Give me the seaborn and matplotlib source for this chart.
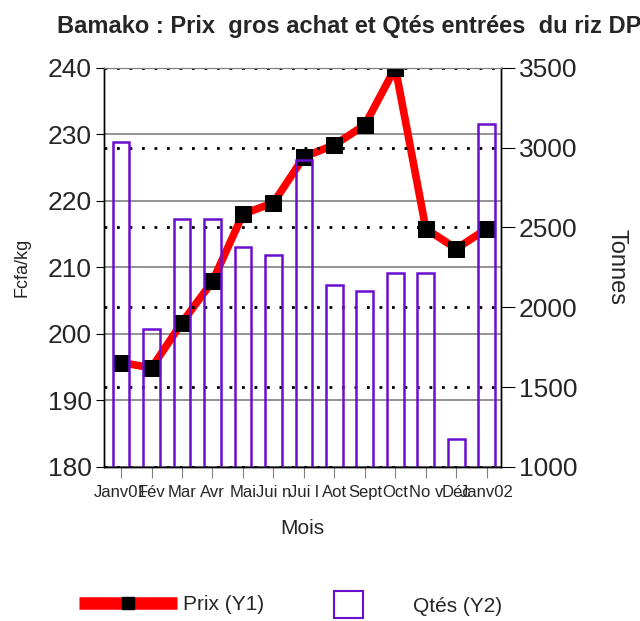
import numpy as np
import pandas as pd
import matplotlib
matplotlib.use("Agg")
import matplotlib.pyplot as plt
import seaborn as sns
from matplotlib.lines import Line2D
from matplotlib.patches import Patch

sns.set_style("white")
plt.rcParams["font.family"] = ["Liberation Sans", "DejaVu Sans"]

# --------------------------------------
# DATA
# --------------------------------------
mois = ["Janv01", "Fév", "Mar", "Avr", "Mai", "Jui n", "Jui l",
        "Aot", "Sept", "Oct", "No v", "Déc", "Janv02"]
prix = [195.7, 194.9, 201.7, 207.9, 218.0, 219.7, 226.6,
        228.4, 231.4, 240.0, 215.8, 212.8, 215.8]
qtes = [3035, 1865, 2555, 2555, 2380, 2330, 2925,
        2140, 2105, 2215, 2215, 1175, 3150]

left_ticks = [180, 190, 200, 210, 220, 230, 240]
right_ticks = [1000, 1500, 2000, 2500, 3000, 3500]

df = pd.DataFrame({"idx": np.arange(len(mois)), "mois": mois,
                   "prix": prix, "qtes": qtes})

red = "#ff0000"
purple = "#6a0fd0"

# --------------------------------------
# FIGURE
# --------------------------------------
fig = plt.figure(figsize=(6.4, 6.21), dpi=100)
ax = fig.add_axes([0.1625, 0.248, 0.62, 0.643])
ax2 = ax.twinx()

# price line (left axis)
sns.lineplot(data=df, x="idx", y="prix", ax=ax, color=red, lw=5.5,
             marker="s", markersize=11, markerfacecolor="black",
             markeredgecolor="black", zorder=3)

# quantities (right axis), open bars
sns.barplot(data=df, x="idx", y="qtes", ax=ax2, fill=False,
            edgecolor=purple, linewidth=1.8, width=0.55, zorder=2)

ax.set_xlim(-0.56, 12.46)
ax2.set_xlim(-0.56, 12.46)
ax.set_ylim(180, 240)
ax2.set_ylim(1000, 3500)

ax.set_yticks(left_ticks)
ax2.set_yticks(right_ticks)
ax.set_xticks(df["idx"])
ax.set_xticklabels(mois, fontsize=12)
ax2.set_xticks(df["idx"])
ax2.tick_params(axis="x", bottom=False, labelbottom=False)

ax.tick_params(axis="y", labelsize=19, length=6, color="black",
               direction="out", left=True, pad=3)
ax2.tick_params(axis="y", labelsize=19, length=10, color="black",
                direction="out", right=True, pad=3)
ax.tick_params(axis="x", length=8, color="gray", direction="out",
               bottom=True, pad=5)

# grids
ax.set_xticks(np.arange(1, 12, 2), minor=True)
ax.tick_params(axis="x", which="minor", length=0)
ax.grid(axis="y", which="major", color="gray", lw=1.2, ls="-")
ax.grid(axis="x", which="minor", color="black", lw=0.9, ls="-")
ax.grid(axis="x", which="major", visible=False)
ax2.grid(axis="y", color="black", lw=2, ls=(0, (1, 3.5)))
ax2.grid(axis="x", visible=False)

for a in (ax, ax2):
    for s in ["left", "right", "bottom"]:
        a.spines[s].set_color("black")
        a.spines[s].set_linewidth(1)
    a.spines["top"].set_color("gray")

ax.set_xlabel("Mois", fontsize=15, labelpad=14)
ax.set_ylabel("Fcfa/kg", fontsize=13, labelpad=12)
ax2.set_ylabel("Tonnes", fontsize=17, rotation=-90, labelpad=36)

fig.text(0.545, 0.958, "Bamako : Prix  gros achat et Qtés entrées  du riz DP",
         ha="center", va="center", fontsize=17, fontweight="bold")

# legend
h1 = Line2D([], [], color=red, lw=9, marker="s", markersize=8,
            markerfacecolor="black", markeredgecolor="black",
            solid_capstyle="butt")
h2 = Patch(facecolor="none", edgecolor=purple, lw=1.5)
fig.legend([h1], ["Prix (Y1)"], loc="center left",
           bbox_to_anchor=(0.094, 0.026), frameon=False, fontsize=15,
           handlelength=4.7, handletextpad=0.3)
fig.legend([h2], ["Qtés (Y2)"], loc="center left",
           bbox_to_anchor=(0.492, 0.026), frameon=False, fontsize=15,
           handlelength=1.4, handleheight=1.6, handletextpad=2.4)

fig.savefig("out.png", dpi=100)
